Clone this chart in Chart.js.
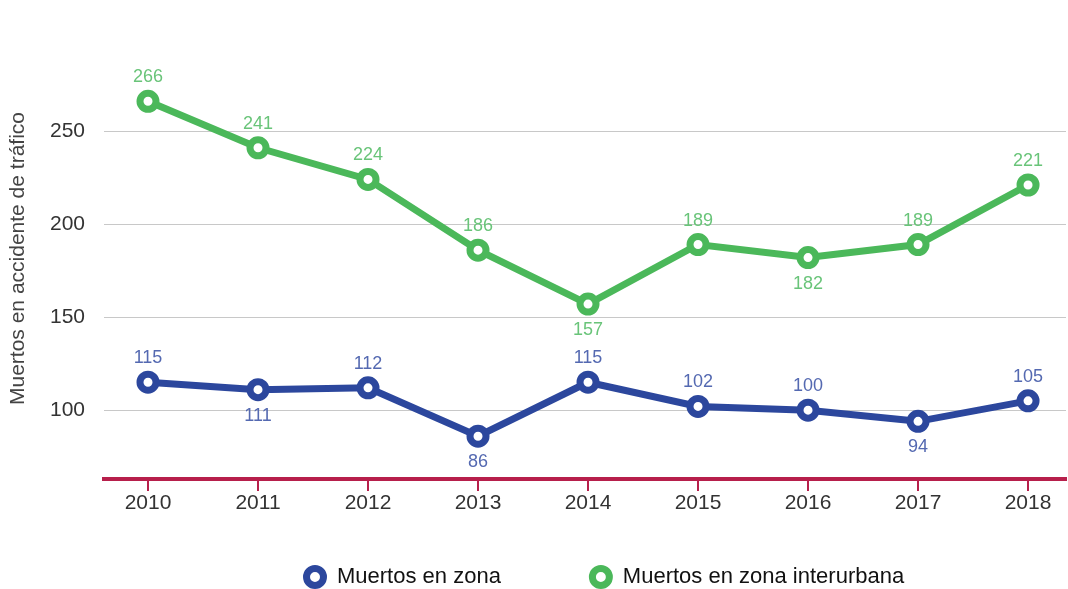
<!DOCTYPE html>
<html>
<head>
<meta charset="utf-8">
<style>
html,body{margin:0;padding:0;background:#fff;}
#wrap{width:1068px;height:589px;position:relative;}
</style>
<script src="https://cdn.jsdelivr.net/npm/chart.js@4/dist/chart.umd.min.js"></script>
</head>
<body>
<div id="wrap"><canvas id="c" width="1068" height="589"></canvas></div>
<script>
// ---- data ----
const years = [2010, 2011, 2012, 2013, 2014, 2015, 2016, 2017, 2018];
const muertosZona = [115, 111, 112, 86, 115, 102, 100, 94, 105];
const muertosInterurbana = [266, 241, 224, 186, 157, 189, 182, 189, 221];
const yTickValues = [100, 150, 200, 250];
const seriesNames = ['Muertos en zona', 'Muertos en zona interurbana'];
const yTitle = 'Muertos en accidente de tráfico';

const FONT = "'Liberation Sans', Arial, Helvetica, sans-serif";
const BLUE = '#2c479d';
const GREEN = '#4bb85a';
const CRIMSON = '#b71f4b';

const toPoints = vals => years.map((yr, i) => ({x: yr, y: vals[i]}));

const valueLabels = {
  id: 'valueLabels',
  afterDatasetsDraw(chart) {
    const ctx = chart.ctx;
    ctx.save();
    ctx.font = '18px ' + FONT;
    ctx.textAlign = 'center';
    ctx.textBaseline = 'middle';
    chart.data.datasets.forEach((ds, di) => {
      const meta = chart.getDatasetMeta(di);
      const vals = ds.data.map(d => d.y);
      ctx.fillStyle = ds.labelColor;
      meta.data.forEach((pt, i) => {
        const v = vals[i];
        const below = i > 0 && i < vals.length - 1 && v < vals[i - 1] && v < vals[i + 1];
        ctx.fillText(String(v), pt.x, pt.y + (below ? 26 : -24));
      });
    });
    ctx.restore();
  }
};

const legendPlace = {
  id: 'legendPlace',
  beforeDraw(chart) {
    const lg = chart.legend;
    if (!lg || !lg.legendHitBoxes || !lg.legendHitBoxes.length) return;
    const dx = 304 - lg.legendHitBoxes[0].left;
    lg.left += dx; lg.right += dx;
    lg.legendHitBoxes.forEach(h => { h.left += dx; });
    const pad = lg.options.labels.padding;
    const dy = (577 - 11 - pad) - lg.top;
    lg.top += dy; lg.bottom += dy;
    lg.legendHitBoxes.forEach(h => { h.top += dy; });
  }
};

const PAD_BOTTOM = -60;

new Chart(document.getElementById('c'), {
  type: 'line',
  data: {
    datasets: [
      {
        label: seriesNames[0],
        data: toPoints(muertosZona),
        borderColor: BLUE,
        backgroundColor: '#ffffff',
        borderWidth: 7,
        pointRadius: 8,
        pointBorderWidth: 7,
        pointBackgroundColor: '#ffffff',
        pointBorderColor: BLUE,
        pointStyle: 'circle',
        tension: 0,
        labelColor: '#5469b1'
      },
      {
        label: seriesNames[1],
        data: toPoints(muertosInterurbana),
        borderColor: GREEN,
        backgroundColor: '#ffffff',
        borderWidth: 7,
        pointRadius: 8,
        pointBorderWidth: 7,
        pointBackgroundColor: '#ffffff',
        pointBorderColor: GREEN,
        pointStyle: 'circle',
        tension: 0,
        labelColor: '#69c479'
      }
    ]
  },
  options: {
    responsive: false,
    animation: false,
    devicePixelRatio: 1,
    layout: {autoPadding: false, padding: {top: 38, right: 2, left: 0, bottom: PAD_BOTTOM}},
    plugins: {
      legend: {
        position: 'bottom',
        labels: {
          usePointStyle: true,
          boxHeight: 12,
          boxWidth: 22,
          padding: 89,
          color: '#111',
          font: {size: 22, family: FONT}
        }
      },
      tooltip: {enabled: false},
      title: {display: false}
    },
    scales: {
      x: {
        type: 'linear',
        min: 2009.6,
        max: 2018.345,
        afterFit(scale) {
          const lg = scale.chart.legend;
          const lh = lg && lg.height ? lg.height : 121;
          scale.height = Math.max(40, 110 - PAD_BOTTOM - lh);
          scale.paddingLeft = 0;
          scale.paddingRight = 0;
          if (scale._margins) { scale._margins.left = 0; scale._margins.right = 0; }
        },
        ticks: {
          stepSize: 1,
          includeBounds: false,
          autoSkip: false,
          maxRotation: 0,
          padding: 0,
          color: '#333',
          font: {size: 21, family: FONT},
          callback: v => (years.includes(v) ? String(v) : '')
        },
        grid: {
          drawOnChartArea: false,
          drawTicks: true,
          tickLength: 12,
          color: CRIMSON,
          lineWidth: 2
        },
        border: {display: true, color: CRIMSON, width: 4}
      },
      y: {
        min: 63,
        max: 300,
        afterFit(scale) { scale.width = 104; },
        afterBuildTicks(scale) {
          scale.ticks = yTickValues.map(v => ({value: v}));
        },
        ticks: {
          padding: 19,
          color: '#333',
          font: {size: 21, family: FONT}
        },
        grid: {
          color: '#c8c8c8',
          lineWidth: 1,
          drawTicks: false
        },
        border: {display: false},
        title: {
          display: true,
          text: yTitle,
          color: '#444',
          font: {size: 21, family: FONT},
          padding: {top: 6, bottom: 0}
        }
      }
    }
  },
  plugins: [valueLabels, legendPlace]
});
</script>
</body>
</html>
